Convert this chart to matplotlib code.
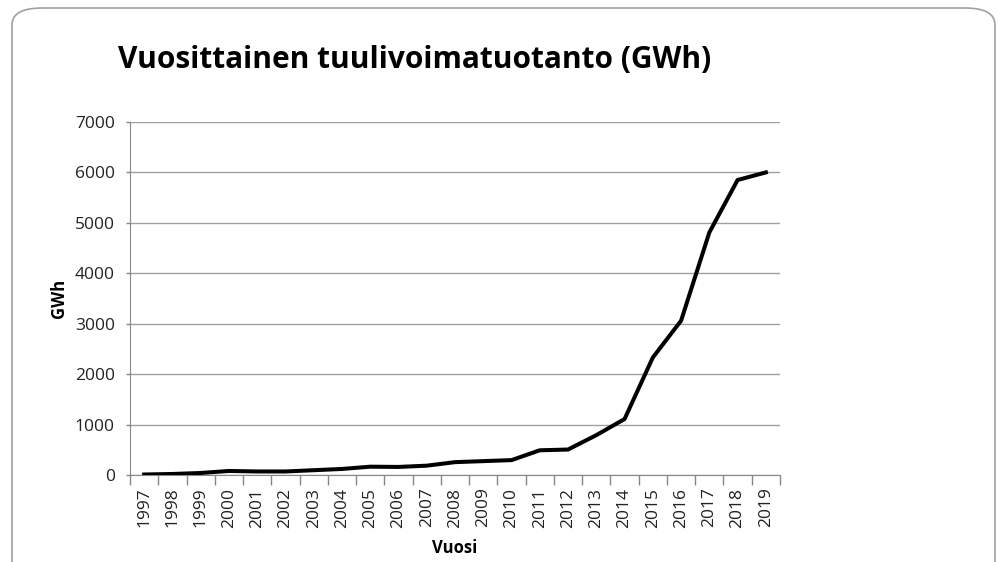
import matplotlib.pyplot as plt
from matplotlib.patches import FancyBboxPatch
import numpy as np

years = [str(y) for y in range(1997, 2020)]
gwh = [10, 20, 40, 80, 70, 70, 95, 120, 165, 160, 185, 255, 275, 295,
       490, 505, 790, 1110, 2330, 3060, 4810, 5850, 6000]
yticks = [0, 1000, 2000, 3000, 4000, 5000, 6000, 7000]

plt.rcParams['font.family'] = ['Open Sans', 'DejaVu Sans']

fig = plt.figure(figsize=(10.06, 5.62), dpi=100)

# rounded chart frame, open at the bottom
frame = FancyBboxPatch((12 / 1006, -0.05), 983 / 1006, 1 - 8 / 562 + 0.05,
                       boxstyle="round,pad=0,rounding_size=0.03",
                       transform=fig.transFigure, facecolor='white',
                       edgecolor='#a0a0a0', linewidth=1.2, zorder=-10)
fig.patches.append(frame)

ax = fig.add_axes([130 / 1006, 1 - 475 / 562, 650 / 1006, 353 / 562], zorder=5)
ax.set_facecolor('none')

x = np.arange(len(years))
ax.plot(x, gwh, color='black', linewidth=2.9, solid_joinstyle='round', zorder=3)

ax.set_xlim(-0.5, len(years) - 0.5)
ax.set_ylim(0, 7000)
ax.set_yticks(yticks)
ax.set_yticklabels([str(v) for v in yticks], fontsize=12.5, color='#222222')
ax.set_xticks(x)
ax.set_xticklabels(years, rotation=90, fontsize=12.5, color='#222222')
ax.set_xticks(np.arange(-0.5, len(years), 1), minor=True)
ax.tick_params(axis='x', which='major', length=0, pad=9)
ax.tick_params(axis='x', which='minor', length=7, color='#888888', width=1)
ax.tick_params(axis='y', length=3, color='#888888', width=1, pad=8)

ax.grid(axis='y', color='#a0a0a0', linewidth=1)
ax.set_axisbelow(True)
for s in ['top', 'right']:
    ax.spines[s].set_visible(False)
ax.spines['left'].set_color('#888888')
ax.spines['bottom'].set_color('#888888')

ax.set_ylabel('GWh', fontsize=12, fontweight='bold', labelpad=5)
ax.set_xlabel('Vuosi', fontsize=12, fontweight='bold', labelpad=8)

fig.text(118 / 1006, 1 - 60 / 562, 'Vuosittainen tuulivoimatuotanto (GWh)',
         fontsize=21.5, fontweight='bold', va='center', ha='left', zorder=6)

fig.savefig('out.png', dpi=100)
